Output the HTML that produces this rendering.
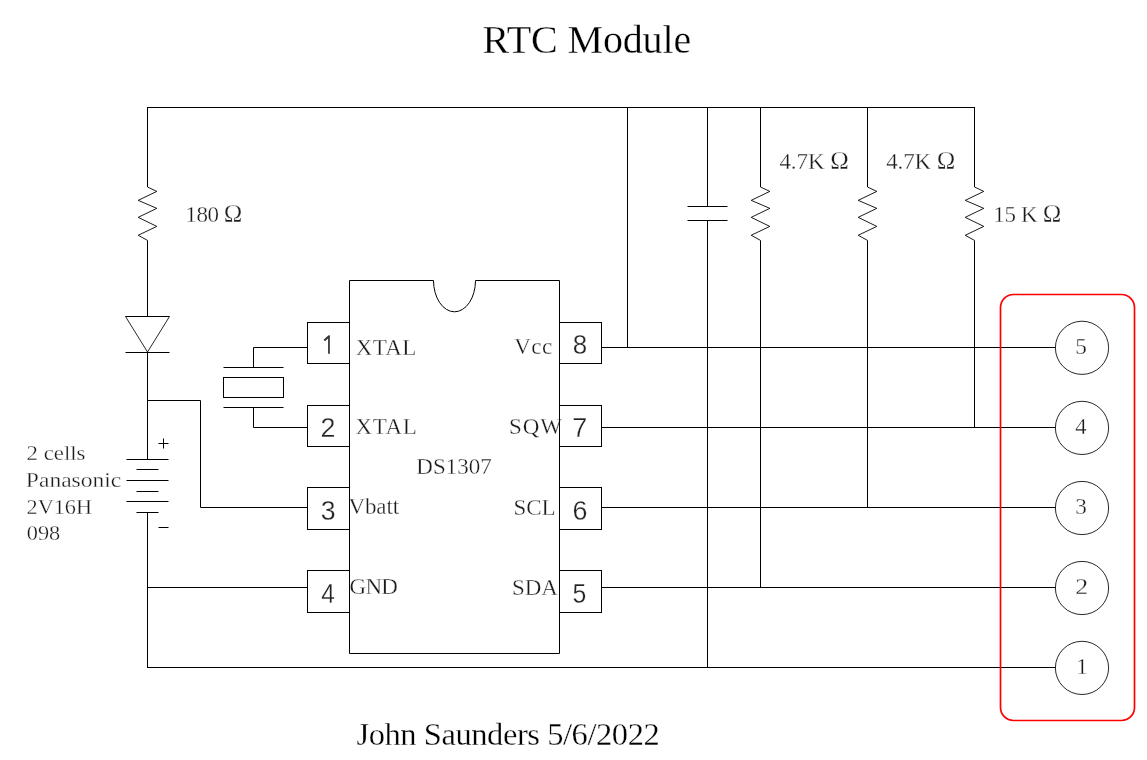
<!DOCTYPE html>
<html><head><meta charset="utf-8"><style>html,body{margin:0;padding:0;background:#fff;overflow:hidden}#w{will-change:transform}svg{display:block}</style></head>
<body><div id="w"><svg width="1147" height="760" viewBox="0 0 1147 760"><text x="482.55" y="52.8" font-family="Liberation Serif" font-size="40" fill="#000" text-anchor="start" stroke="#fff" stroke-width="0.3" id="RTC" textLength="208.69" lengthAdjust="spacing">RTC Module</text>
<text x="185.35" y="222.46" font-family="Liberation Serif" font-size="23" fill="#1a1a1a" text-anchor="start" stroke="#fff" stroke-width="0.3" id="180" textLength="57.03" lengthAdjust="spacing">180 <tspan font-size="25">Ω</tspan></text>
<text x="779.43" y="169.06" font-family="Liberation Serif" font-size="23" fill="#1a1a1a" text-anchor="start" stroke="#fff" stroke-width="0.3" id="47a" textLength="69.30" lengthAdjust="spacing">4.7K <tspan font-size="25">Ω</tspan></text>
<text x="886.17" y="169.06" font-family="Liberation Serif" font-size="23" fill="#1a1a1a" text-anchor="start" stroke="#fff" stroke-width="0.3" id="47b" textLength="69.07" lengthAdjust="spacing">4.7K <tspan font-size="25">Ω</tspan></text>
<text x="993.29" y="222.06" font-family="Liberation Serif" font-size="23" fill="#1a1a1a" text-anchor="start" stroke="#fff" stroke-width="0.3" id="15K" textLength="68.06" lengthAdjust="spacing">15 K <tspan font-size="25">Ω</tspan></text>
<text x="320.6" y="436.99" font-family="Liberation Sans" font-size="27.6" fill="#222" text-anchor="start" stroke="#fff" stroke-width="0.3" id="p2" textLength="14.96" lengthAdjust="spacingAndGlyphs">2</text>
<text x="320.67" y="519.71" font-family="Liberation Sans" font-size="27.6" fill="#222" text-anchor="start" stroke="#fff" stroke-width="0.3" id="p3" textLength="14.84" lengthAdjust="spacingAndGlyphs">3</text>
<text x="321.18" y="603.05" font-family="Liberation Sans" font-size="27.6" fill="#222" text-anchor="start" stroke="#fff" stroke-width="0.3" id="p4" textLength="13.63" lengthAdjust="spacingAndGlyphs">4</text>
<text x="572.75" y="354.47" font-family="Liberation Sans" font-size="27.6" fill="#222" text-anchor="start" stroke="#fff" stroke-width="0.3" id="p8" textLength="14.44" lengthAdjust="spacingAndGlyphs">8</text>
<text x="572.28" y="437.03" font-family="Liberation Sans" font-size="27.6" fill="#222" text-anchor="start" stroke="#fff" stroke-width="0.3" id="p7" textLength="15.04" lengthAdjust="spacingAndGlyphs">7</text>
<text x="572.39" y="519.94" font-family="Liberation Sans" font-size="27.6" fill="#222" text-anchor="start" stroke="#fff" stroke-width="0.3" id="p6" textLength="14.95" lengthAdjust="spacingAndGlyphs">6</text>
<text x="572.4" y="602.86" font-family="Liberation Sans" font-size="27.6" fill="#222" text-anchor="start" stroke="#fff" stroke-width="0.3" id="p5" textLength="13.80" lengthAdjust="spacingAndGlyphs">5</text>
<text x="355.8" y="354.5" font-family="Liberation Serif" font-size="23" fill="#1a1a1a" text-anchor="start" stroke="#fff" stroke-width="0.3" id="XTAL1" textLength="60.49" lengthAdjust="spacing">XTAL</text>
<text x="355.52" y="433.86" font-family="Liberation Serif" font-size="23" fill="#1a1a1a" text-anchor="start" stroke="#fff" stroke-width="0.3" id="XTAL2" textLength="61.25" lengthAdjust="spacing">XTAL</text>
<text x="514.19" y="354.46" font-family="Liberation Serif" font-size="23" fill="#1a1a1a" text-anchor="start" stroke="#fff" stroke-width="0.3" id="Vcc" textLength="38.12" lengthAdjust="spacing">Vcc</text>
<text x="508.94" y="433.8" font-family="Liberation Serif" font-size="23" fill="#1a1a1a" text-anchor="start" stroke="#fff" stroke-width="0.3" id="SQW" textLength="52.94" lengthAdjust="spacing">SQW</text>
<text x="348.45" y="514.13" font-family="Liberation Serif" font-size="23" fill="#1a1a1a" text-anchor="start" stroke="#fff" stroke-width="0.3" id="Vbatt" textLength="50.68" lengthAdjust="spacing">Vbatt</text>
<text x="513.62" y="514.5" font-family="Liberation Serif" font-size="23" fill="#1a1a1a" text-anchor="start" stroke="#fff" stroke-width="0.3" id="SCL" textLength="42.04" lengthAdjust="spacing">SCL</text>
<text x="349.55" y="594.26" font-family="Liberation Serif" font-size="23" fill="#1a1a1a" text-anchor="start" stroke="#fff" stroke-width="0.3" id="GND" textLength="48.34" lengthAdjust="spacing">GND</text>
<text x="511.94" y="594.5" font-family="Liberation Serif" font-size="23" fill="#1a1a1a" text-anchor="start" stroke="#fff" stroke-width="0.3" id="SDA" textLength="46.03" lengthAdjust="spacing">SDA</text>
<text x="416.28" y="474.46" font-family="Liberation Serif" font-size="23" fill="#1a1a1a" text-anchor="start" stroke="#fff" stroke-width="0.3" id="DS1307" textLength="75.37" lengthAdjust="spacing">DS1307</text>
<text x="26.58" y="460.06" font-family="Liberation Serif" font-size="21" fill="#1a1a1a" text-anchor="start" stroke="#fff" stroke-width="0.3" id="cells" textLength="58.92" lengthAdjust="spacingAndGlyphs">2 cells</text>
<text x="25.88" y="487.26" font-family="Liberation Serif" font-size="21" fill="#1a1a1a" text-anchor="start" stroke="#fff" stroke-width="0.3" id="Panasonic" textLength="95.44" lengthAdjust="spacingAndGlyphs">Panasonic</text>
<text x="26.57" y="514.06" font-family="Liberation Serif" font-size="21" fill="#1a1a1a" text-anchor="start" stroke="#fff" stroke-width="0.3" id="2V16H" textLength="65.49" lengthAdjust="spacingAndGlyphs">2V16H</text>
<text x="26.72" y="540.0" font-family="Liberation Serif" font-size="21" fill="#1a1a1a" text-anchor="start" stroke="#fff" stroke-width="0.3" id="098" textLength="33.51" lengthAdjust="spacingAndGlyphs">098</text>
<text x="1075.36" y="353.7" font-family="Liberation Serif" font-size="23.5" fill="#1a1a1a" text-anchor="start" stroke="#fff" stroke-width="0.3" id="c5" textLength="11.62" lengthAdjust="spacingAndGlyphs">5</text>
<text x="1075.22" y="433.7" font-family="Liberation Serif" font-size="23.5" fill="#1a1a1a" text-anchor="start" stroke="#fff" stroke-width="0.3" id="c4" textLength="11.26" lengthAdjust="spacingAndGlyphs">4</text>
<text x="1075.31" y="513.7" font-family="Liberation Serif" font-size="23.5" fill="#1a1a1a" text-anchor="start" stroke="#fff" stroke-width="0.3" id="c3" textLength="11.61" lengthAdjust="spacingAndGlyphs">3</text>
<text x="1075.31" y="593.7" font-family="Liberation Serif" font-size="23.5" fill="#1a1a1a" text-anchor="start" stroke="#fff" stroke-width="0.3" id="c2" textLength="12.95" lengthAdjust="spacingAndGlyphs">2</text>
<text x="1076.19" y="674.0" font-family="Liberation Serif" font-size="23.5" fill="#1a1a1a" text-anchor="start" stroke="#fff" stroke-width="0.3" id="c1" textLength="11.41" lengthAdjust="spacingAndGlyphs">1</text>
<text x="356.45" y="744.6" font-family="Liberation Serif" font-size="32.5" fill="#000" text-anchor="start" stroke="#fff" stroke-width="0.3" id="John" textLength="303.27" lengthAdjust="spacing">John Saunders 5/6/2022</text>
<line x1="147" y1="107.5" x2="975" y2="107.5" stroke="#000" stroke-width="1"/>
<line x1="147.5" y1="107" x2="147.5" y2="187" stroke="#000" stroke-width="1"/>
<polyline points="147.5,187 156.8,191.4 138.2,200.35 156.8,208.35 138.2,217.35 156.8,226.4 138.2,235.25 147.5,240.4" fill="none" stroke="#000" stroke-width="0.9"/>
<line x1="147.5" y1="240.4" x2="147.5" y2="316.5" stroke="#000" stroke-width="1"/>
<line x1="125.5" y1="316.5" x2="169.5" y2="316.5" stroke="#000" stroke-width="1"/>
<polyline points="125.5,316.5 147.5,352 169.5,316.5" fill="none" stroke="#000" stroke-width="0.85"/>
<line x1="125.5" y1="352.5" x2="169.5" y2="352.5" stroke="#000" stroke-width="1"/>
<line x1="147.5" y1="352.5" x2="147.5" y2="459.5" stroke="#000" stroke-width="1"/>
<polyline points="147.5,400.5 200.5,400.5 200.5,507.5 307.5,507.5" fill="none" stroke="#000" stroke-width="1"/>
<line x1="126.5" y1="459.5" x2="168.5" y2="459.5" stroke="#000" stroke-width="1"/>
<line x1="136.5" y1="469.5" x2="158.5" y2="469.5" stroke="#000" stroke-width="1"/>
<line x1="126.5" y1="480.5" x2="168.5" y2="480.5" stroke="#000" stroke-width="1"/>
<line x1="136.5" y1="491.5" x2="158.5" y2="491.5" stroke="#000" stroke-width="1"/>
<line x1="126.5" y1="501.5" x2="168.5" y2="501.5" stroke="#000" stroke-width="1"/>
<line x1="136.5" y1="512.5" x2="158.5" y2="512.5" stroke="#000" stroke-width="1"/>
<line x1="158.5" y1="443.5" x2="168.5" y2="443.5" stroke="#000" stroke-width="1"/>
<line x1="163.5" y1="438.5" x2="163.5" y2="448.5" stroke="#000" stroke-width="1"/>
<line x1="158.5" y1="527.5" x2="168.5" y2="527.5" stroke="#000" stroke-width="1"/>
<line x1="147.5" y1="512.5" x2="147.5" y2="667.5" stroke="#000" stroke-width="1"/>
<polyline points="147,667.5 1055.5,667.5" fill="none" stroke="#000" stroke-width="1"/>
<line x1="147.5" y1="587.5" x2="307.5" y2="587.5" stroke="#000" stroke-width="1"/>
<polyline points="307.5,347.5 253.5,347.5 253.5,367.5" fill="none" stroke="#000" stroke-width="1"/>
<line x1="223.5" y1="367.5" x2="283.5" y2="367.5" stroke="#000" stroke-width="1"/>
<rect x="223.5" y="377.5" width="60" height="20" rx="0" fill="none" stroke="#000" stroke-width="1"/>
<line x1="223.5" y1="407.5" x2="283.5" y2="407.5" stroke="#000" stroke-width="1"/>
<polyline points="253.5,407.5 253.5,427.5 307.5,427.5" fill="none" stroke="#000" stroke-width="1"/>
<path d="M349.5,280.5 H433.5 A21,31.3 0 0 0 475.5,280.5 H559.5 V653.5 H349.5 Z" fill="none" stroke="#000" stroke-width="1"/>
<rect x="307.5" y="322.5" width="42" height="41.0" rx="0" fill="none" stroke="#000" stroke-width="1"/>
<rect x="559.5" y="322.5" width="42" height="41.0" rx="0" fill="none" stroke="#000" stroke-width="1"/>
<rect x="307.5" y="405.5" width="42" height="41.0" rx="0" fill="none" stroke="#000" stroke-width="1"/>
<rect x="559.5" y="405.5" width="42" height="41.0" rx="0" fill="none" stroke="#000" stroke-width="1"/>
<rect x="307.5" y="487.5" width="42" height="42.0" rx="0" fill="none" stroke="#000" stroke-width="1"/>
<rect x="559.5" y="487.5" width="42" height="42.0" rx="0" fill="none" stroke="#000" stroke-width="1"/>
<rect x="307.5" y="570.5" width="42" height="42.0" rx="0" fill="none" stroke="#000" stroke-width="1"/>
<rect x="559.5" y="570.5" width="42" height="42.0" rx="0" fill="none" stroke="#000" stroke-width="1"/>
<line x1="601.5" y1="347.5" x2="1055.5" y2="347.5" stroke="#000" stroke-width="1"/>
<line x1="601.5" y1="427.5" x2="1055.5" y2="427.5" stroke="#000" stroke-width="1"/>
<line x1="601.5" y1="507.5" x2="1055.5" y2="507.5" stroke="#000" stroke-width="1"/>
<line x1="601.5" y1="587.5" x2="1055.5" y2="587.5" stroke="#000" stroke-width="1"/>
<line x1="627.5" y1="107.5" x2="627.5" y2="347.5" stroke="#000" stroke-width="1"/>
<line x1="707.5" y1="107.5" x2="707.5" y2="206.5" stroke="#000" stroke-width="1"/>
<line x1="687.5" y1="206.5" x2="727.5" y2="206.5" stroke="#000" stroke-width="1"/>
<line x1="687.5" y1="220.5" x2="727.5" y2="220.5" stroke="#000" stroke-width="1"/>
<line x1="707.5" y1="220.5" x2="707.5" y2="667.5" stroke="#000" stroke-width="1"/>
<line x1="760.5" y1="107.5" x2="760.5" y2="187" stroke="#000" stroke-width="1"/>
<polyline points="760.5,187 769.8,191.4 751.2,200.35 769.8,208.35 751.2,217.35 769.8,226.4 751.2,235.25 760.5,240.4" fill="none" stroke="#000" stroke-width="0.9"/>
<line x1="760.5" y1="240.4" x2="760.5" y2="587.5" stroke="#000" stroke-width="1"/>
<line x1="867.5" y1="107.5" x2="867.5" y2="187" stroke="#000" stroke-width="1"/>
<polyline points="867.5,187 876.8,191.4 858.2,200.35 876.8,208.35 858.2,217.35 876.8,226.4 858.2,235.25 867.5,240.4" fill="none" stroke="#000" stroke-width="0.9"/>
<line x1="867.5" y1="240.4" x2="867.5" y2="507.5" stroke="#000" stroke-width="1"/>
<line x1="974.5" y1="107.5" x2="974.5" y2="187" stroke="#000" stroke-width="1"/>
<polyline points="974.5,187 983.8,191.4 965.2,200.35 983.8,208.35 965.2,217.35 983.8,226.4 965.2,235.25 974.5,240.4" fill="none" stroke="#000" stroke-width="0.9"/>
<line x1="974.5" y1="240.4" x2="974.5" y2="427.5" stroke="#000" stroke-width="1"/>
<circle cx="1082" cy="347.8" r="26.6" fill="none" stroke="#000" stroke-width="0.85"/>
<circle cx="1082" cy="427.9" r="26.6" fill="none" stroke="#000" stroke-width="0.85"/>
<circle cx="1082" cy="508" r="26.6" fill="none" stroke="#000" stroke-width="0.85"/>
<circle cx="1082" cy="588" r="26.6" fill="none" stroke="#000" stroke-width="0.85"/>
<circle cx="1082" cy="667.9" r="26.6" fill="none" stroke="#000" stroke-width="0.85"/>
<rect x="1000.5" y="294.5" width="134" height="426" rx="13" fill="none" stroke="#f00" stroke-width="1.7"/>
<path d="M328,353.8 V336.2 L329.9,335.1 V353.8 Z" fill="#444"/><line x1="329.2" y1="336" x2="324.3" y2="340.6" stroke="#333" stroke-width="2"/></svg></div></body></html>
